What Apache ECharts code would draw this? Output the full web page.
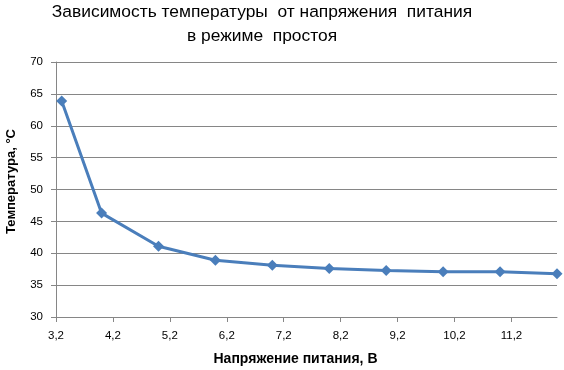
<!DOCTYPE html>
<html>
<head>
<meta charset="utf-8">
<script src="https://cdn.jsdelivr.net/npm/echarts@6/dist/echarts.min.js"></script>
<style>html,body{margin:0;padding:0;background:#fff}#c{width:564px;height:370px}</style>
</head>
<body>
<div id="c"></div>
<script>
var titleLines = ['Зависимость температуры  от напряжения  питания', 'в режиме  простоя'];
var xName = 'Напряжение питания, В';
var yName = 'Температура, °C';
var voltage = [3.3, 4.0, 5.0, 6.0, 7.0, 8.0, 9.0, 10.0, 11.0, 12.0];
var temperature = [63.9, 46.3, 41.1, 38.9, 38.1, 37.6, 37.3, 37.1, 37.1, 36.8];
var xTicks = [3.2, 4.2, 5.2, 6.2, 7.2, 8.2, 9.2, 10.2, 11.2];
var yTicks = [30, 35, 40, 45, 50, 55, 60, 65, 70];

var chart = echarts.init(document.getElementById('c'), null, {renderer: 'canvas'});
var FONT = 'Liberation Sans';
chart.setOption({
  animation: false,
  backgroundColor: '#ffffff',
  textStyle: {fontFamily: FONT},
  graphic: [{
    type: 'text', x: 262, y: 0,
    style: {text: titleLines.join('\n'), fontFamily: FONT, fontSize: 17.4, lineHeight: 24, fill: '#000', align: 'center'}
  }],
  grid: {left: 56, right: 7, top: 62, bottom: 53, containLabel: false, outerBoundsMode: 'none'},
  xAxis: {
    type: 'value', min: xTicks[0], max: 12,
    name: xName, nameLocation: 'middle', nameGap: 35,
    nameTextStyle: {fontFamily: FONT, fontSize: 14, fontWeight: 'bold', color: '#000', padding: [0, 22, 0, 0]},
    axisLine: {show: true, lineStyle: {color: '#868686', width: 1}},
    axisTick: {show: true, length: 5, customValues: xTicks, lineStyle: {color: '#868686'}},
    axisLabel: {customValues: xTicks, fontSize: 11.5, color: '#000', margin: 13,
      formatter: function (v) { return (Math.round(v * 10) / 10).toFixed(1).replace('.', ','); }},
    splitLine: {show: false}
  },
  yAxis: {
    type: 'value', min: yTicks[0], max: yTicks[yTicks.length - 1], interval: 5,
    name: yName, nameLocation: 'middle', nameGap: 38, nameRotate: 90,
    nameTextStyle: {fontFamily: FONT, fontSize: 13, fontWeight: 'bold', color: '#000', padding: [0, 0, 0, 16]},
    axisLine: {show: true, lineStyle: {color: '#868686', width: 1}},
    axisTick: {show: true, length: 5, lineStyle: {color: '#868686'}},
    axisLabel: {fontSize: 11.5, color: '#000', margin: 13},
    splitLine: {show: true, lineStyle: {color: '#868686', width: 1}}
  },
  series: [{
    type: 'line',
    data: voltage.map(function (v, i) { return [v, temperature[i]]; }),
    symbol: 'diamond', symbolSize: 11,
    lineStyle: {color: '#4A7EBB', width: 3},
    itemStyle: {color: '#4A7EBB'}
  }]
});
</script>
</body>
</html>
